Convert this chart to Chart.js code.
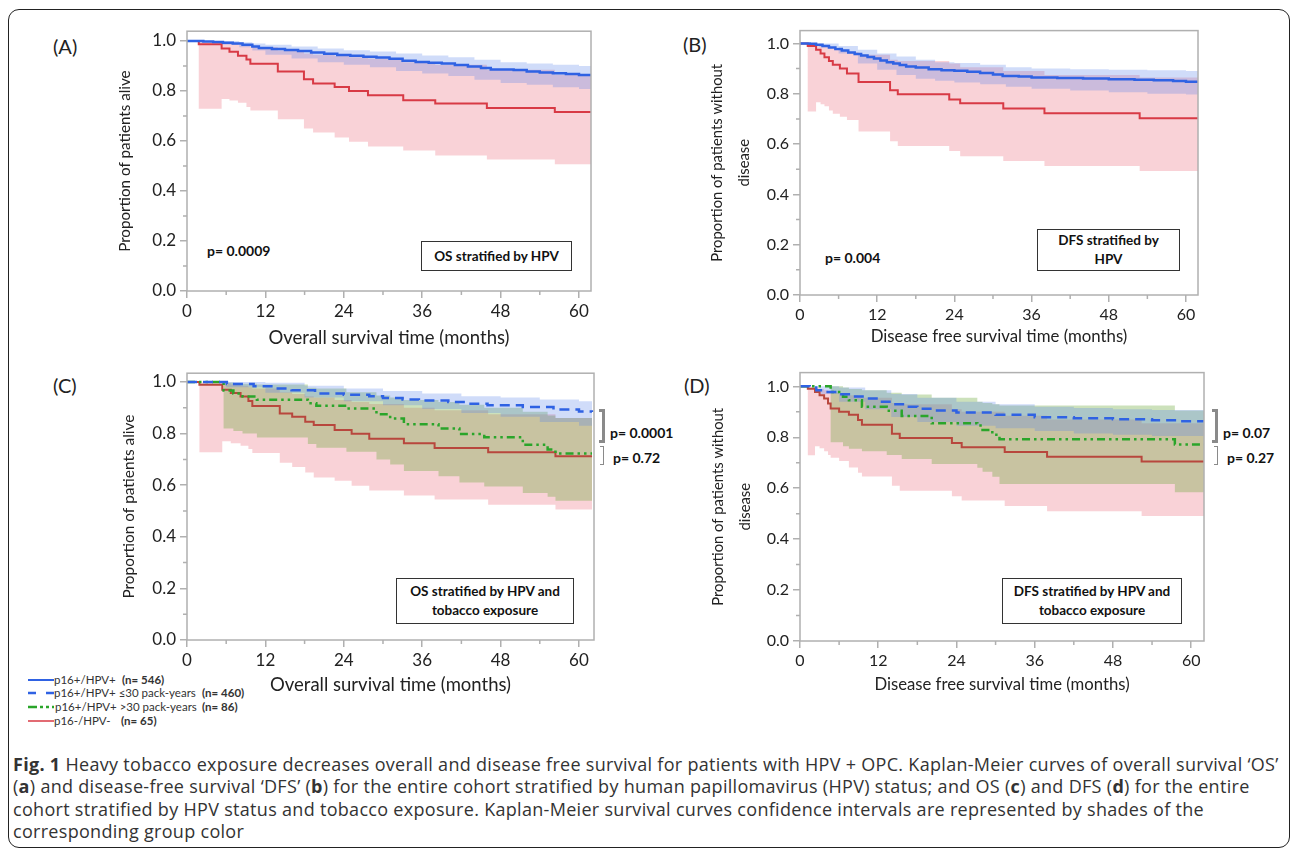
<!DOCTYPE html>
<html>
<head>
<meta charset="utf-8">
<script src="https://cdn.jsdelivr.net/npm/chart.js@4.4.1/dist/chart.umd.min.js"></script>
<style>
  html, body { margin: 0; padding: 0; background: #fff; }
  body { position: relative; width: 1292px; height: 850px; overflow: hidden; font-family: Lato, sans-serif; color: #222; }
  .frame { position: absolute; left: 8px; top: 9px; width: 1282px; height: 839px; box-sizing: border-box; border: 1.5px solid #222; border-radius: 11px; }
  .panel { position: absolute; }
  .panel canvas { display: block; }
  .tag { position: absolute; font-size: 20px; line-height: 20px; color: #222; }
  .pval { position: absolute; font-size: 14px; font-weight: 700; line-height: 16px; color: #111; white-space: nowrap; transform: translateY(-50%); }
  .note { position: absolute; box-sizing: border-box; border: 1.5px solid #333; display: flex; align-items: center; justify-content: center; text-align: center; font-size: 13.5px; font-weight: 700; line-height: 19px; color: #111; }
  .brace { position: absolute; box-sizing: border-box; border-color: #8a8a8a; border-style: solid; border-left: none; }
  .leg { position: absolute; font-size: 11.5px; color: #333; white-space: nowrap; line-height: 12px; transform: translateY(-50%); }
  .leg b { font-weight: 700; }
  .caption { position: absolute; left: 13px; top: 753px; font-family: "Open Sans", sans-serif; font-size: 18px; letter-spacing: 0.3px; line-height: 22.3px; color: #333; }
  .caption div { white-space: nowrap; }
</style>
</head>
<body>
<div class="frame"></div>

<div class="tag" style="left:53px;top:36px">(A)</div>
<div class="tag" style="left:683px;top:34px">(B)</div>
<div class="tag" style="left:53px;top:375px">(C)</div>
<div class="tag" style="left:684px;top:375px">(D)</div>

<div class="pval" style="left:207px;top:251px">p= 0.0009</div>
<div class="note" style="left:421px;top:241px;width:151px;height:30px">OS stratified by HPV</div>

<div class="pval" style="left:825px;top:258px">p= 0.004</div>
<div class="note" style="left:1037px;top:229px;width:143px;height:42px">DFS stratified by<br>HPV</div>

<div class="note" style="left:396px;top:578px;width:178px;height:46px">OS stratified by HPV and<br>tobacco exposure</div>
<div class="brace" style="left:599px;top:409px;width:6px;height:34px;border-width:3px"></div>
<div class="brace" style="left:600px;top:446px;width:4px;height:19px;border-width:1.5px"></div>
<div class="pval" style="left:610px;top:433px">p= 0.0001</div>
<div class="pval" style="left:613px;top:458px">p= 0.72</div>

<div class="note" style="left:1002px;top:578px;width:180px;height:46px">DFS stratified by HPV and<br>tobacco exposure</div>
<div class="brace" style="left:1212px;top:409px;width:6px;height:34px;border-width:3px"></div>
<div class="brace" style="left:1214px;top:446px;width:4px;height:19px;border-width:1.5px"></div>
<div class="pval" style="left:1223px;top:433px">p= 0.07</div>
<div class="pval" style="left:1227px;top:458px">p= 0.27</div>

<svg style="position:absolute;left:26px;top:672px" width="32" height="56">
  <line x1="2" y1="8" x2="28" y2="8" stroke="#2f62e3" stroke-width="2"/>
  <line x1="2" y1="21" x2="28" y2="21" stroke="#2f62e3" stroke-width="2.5" stroke-dasharray="8 10"/>
  <line x1="2" y1="35" x2="28" y2="35" stroke="#2aa52a" stroke-width="2.5" stroke-dasharray="9 3 3 3 3 3"/>
  <line x1="2" y1="49" x2="28" y2="49" stroke="#d83a45" stroke-width="1.5"/>
</svg>
<div class="leg" style="left:54px;top:680px">p16+/HPV+</div><div class="leg" style="left:122px;top:680px"><b>(n= 546)</b></div>
<div class="leg" style="left:54px;top:693px">p16+/HPV+ ≤30 pack-years</div><div class="leg" style="left:202px;top:693px"><b>(n= 460)</b></div>
<div class="leg" style="left:55px;top:707px">p16+/HPV+ &gt;30 pack-years</div><div class="leg" style="left:202px;top:707px"><b>(n= 86)</b></div>
<div class="leg" style="left:54px;top:721px">p16-/HPV-</div><div class="leg" style="left:121px;top:721px"><b>(n= 65)</b></div>

<div class="caption">
  <div><b>Fig. 1</b> Heavy tobacco exposure decreases overall and disease free survival for patients with HPV + OPC. Kaplan-Meier curves of overall survival ‘OS’</div>
  <div>(<b>a</b>) and disease-free survival ‘DFS’ (<b>b</b>) for the entire cohort stratified by human papillomavirus (HPV) status; and OS (<b>c</b>) and DFS (<b>d</b>) for the entire</div>
  <div>cohort stratified by HPV status and tobacco exposure. Kaplan-Meier survival curves confidence intervals are represented by shades of the</div>
  <div>corresponding group color</div>
</div>

<script>
/* axis ticks shared by all four panels */
const xTicks = [0, 12, 24, 36, 48, 60];
const xMinor = [6, 18, 30, 42, 54];
const yTicks = [0, 0.2, 0.4, 0.6, 0.8, 1.0];
const yMinor = [0.1, 0.3, 0.5, 0.7, 0.9];

/* (A) overall survival by HPV */
const osRedT  = [0, 1.8, 5.3, 6.5, 7.8, 9.1, 9.7, 13.9, 17.9, 19.3, 22.6, 24.8, 27.7, 33.1, 38.0, 45.9, 56.3, 62];
const osRedS  = [1, 0.987, 0.970, 0.957, 0.941, 0.926, 0.909, 0.878, 0.847, 0.830, 0.816, 0.800, 0.783, 0.763, 0.750, 0.732, 0.716, 0.716];
const osRedLo = [1, 0.729, 0.768, 0.762, 0.753, 0.736, 0.722, 0.687, 0.650, 0.634, 0.614, 0.597, 0.578, 0.562, 0.542, 0.526, 0.507, 0.507];
const osRedHi = [1, 0.995, 0.993, 0.990, 0.985, 0.980, 0.975, 0.962, 0.950, 0.945, 0.940, 0.935, 0.930, 0.915, 0.905, 0.885, 0.865, 0.865];
const osBlueT = [0, 2.5, 4, 5.5, 7, 8.5, 10, 11, 13, 15, 17, 19, 21, 23, 25, 27, 29, 31, 33, 35, 37, 39, 41, 43, 45, 46.5, 50, 52, 54, 56, 58, 60, 62];
const osBlueS = [1, 0.998, 0.996, 0.993, 0.99, 0.985, 0.978, 0.972, 0.968, 0.964, 0.96, 0.954, 0.949, 0.944, 0.941, 0.937, 0.934, 0.929, 0.921, 0.916, 0.913, 0.91, 0.904, 0.898, 0.892, 0.886, 0.884, 0.878, 0.874, 0.871, 0.868, 0.864, 0.862];
const osBlueBandT = [0, 2, 5, 8, 10, 12, 16, 20, 24, 28, 32, 36, 40, 44, 48, 52, 56, 60, 62];
const osBlueHi = [1, 1, 1, 0.995, 0.99, 0.985, 0.978, 0.97, 0.963, 0.958, 0.95, 0.942, 0.935, 0.925, 0.915, 0.91, 0.905, 0.9, 0.898];
const osBlueLo = [1, 0.995, 0.985, 0.975, 0.962, 0.945, 0.93, 0.915, 0.905, 0.895, 0.88, 0.87, 0.86, 0.845, 0.832, 0.825, 0.815, 0.808, 0.805];

/* (B) disease free survival by HPV */
const dfsRedT  = [0, 1.2, 2.5, 3.2, 3.8, 4.5, 5.1, 6.2, 7.3, 9.1, 14.0, 15.2, 23.2, 24.9, 31.6, 38.0, 52.8, 62];
const dfsRedS  = [1, 0.99, 0.975, 0.96, 0.945, 0.93, 0.915, 0.90, 0.88, 0.847, 0.814, 0.798, 0.777, 0.762, 0.741, 0.722, 0.703, 0.703];
const dfsRedLo = [1, 0.729, 0.766, 0.758, 0.75, 0.733, 0.72, 0.709, 0.696, 0.65, 0.611, 0.592, 0.572, 0.552, 0.533, 0.513, 0.493, 0.493];
const dfsRedHi = [1, 0.998, 0.996, 0.993, 0.99, 0.985, 0.98, 0.975, 0.965, 0.955, 0.935, 0.93, 0.92, 0.905, 0.89, 0.875, 0.865, 0.865];
const dfsBlueT = [0, 1.5, 2.5, 3.5, 4.5, 5.5, 6.5, 7.5, 8.5, 9.5, 10.5, 11.5, 12.5, 13.5, 14.5, 15.5, 16.5, 18, 20, 22, 24, 26, 28, 30, 31.5, 34, 36, 40, 44, 48, 52, 55, 58, 60, 62];
const dfsBlueS = [1, 0.999, 0.995, 0.99, 0.984, 0.978, 0.972, 0.964, 0.958, 0.952, 0.946, 0.94, 0.932, 0.925, 0.92, 0.914, 0.908, 0.904, 0.897, 0.893, 0.891, 0.887, 0.882, 0.876, 0.871, 0.869, 0.865, 0.863, 0.861, 0.858, 0.856, 0.854, 0.851, 0.848, 0.847];
const dfsBlueBandT = [0, 3, 6, 9, 12, 15, 18, 21, 24, 28, 32, 36, 42, 48, 54, 60, 62];
const dfsBlueHi = [1, 1, 0.99, 0.975, 0.96, 0.948, 0.935, 0.925, 0.922, 0.915, 0.905, 0.9, 0.897, 0.895, 0.893, 0.89, 0.888];
const dfsBlueLo = [1, 0.985, 0.96, 0.92, 0.895, 0.875, 0.86, 0.852, 0.845, 0.838, 0.828, 0.82, 0.813, 0.806, 0.8, 0.797, 0.795];

/* (C) overall survival by HPV and tobacco */
const osTobRedT  = [0, 1.9, 5.4, 6.7, 8.2, 9.4, 10.0, 14.2, 16.1, 18.1, 19.4, 22.6, 25.2, 27.9, 33.2, 37.9, 46.1, 56.4, 62];
const osTobRedS  = [1, 0.989, 0.97, 0.957, 0.944, 0.926, 0.907, 0.878, 0.865, 0.846, 0.833, 0.814, 0.799, 0.78, 0.763, 0.744, 0.728, 0.712, 0.712];
const osTobRedLo = [1, 0.728, 0.77, 0.763, 0.753, 0.74, 0.725, 0.687, 0.67, 0.649, 0.63, 0.617, 0.598, 0.579, 0.56, 0.545, 0.524, 0.506, 0.506];
const osTobRedHi = [1, 0.998, 0.995, 0.99, 0.985, 0.98, 0.975, 0.96, 0.953, 0.945, 0.94, 0.93, 0.922, 0.915, 0.9, 0.89, 0.875, 0.86, 0.86];
const osTobGreenT  = [0, 5.6, 7.1, 8.5, 10.7, 18.5, 19.8, 24.4, 29.0, 31.1, 33.2, 38.5, 41.7, 45.5, 51.4, 55.2, 56.4, 62];
const osTobGreenS  = [1, 0.967, 0.955, 0.944, 0.931, 0.918, 0.908, 0.897, 0.875, 0.858, 0.836, 0.82, 0.798, 0.786, 0.757, 0.738, 0.723, 0.723];
const osTobGreenLo = [1, 0.82, 0.81, 0.8, 0.785, 0.76, 0.745, 0.73, 0.7, 0.68, 0.655, 0.635, 0.61, 0.595, 0.57, 0.555, 0.54, 0.54];
const osTobGreenHi = [1, 0.998, 0.995, 0.993, 0.99, 0.978, 0.975, 0.96, 0.948, 0.94, 0.93, 0.922, 0.912, 0.9, 0.885, 0.87, 0.86, 0.86];
const osTobBlueT = [0, 6.1, 10.2, 13.2, 16, 19.6, 24, 27.9, 30, 33, 35.5, 40, 43.2, 46, 51.4, 56.1, 60, 62];
const osTobBlueS = [1, 0.992, 0.983, 0.975, 0.968, 0.955, 0.95, 0.945, 0.938, 0.932, 0.928, 0.922, 0.916, 0.91, 0.903, 0.893, 0.886, 0.884];
const osTobBlueBandT = [0, 6, 12, 18, 24, 30, 36, 42, 48, 54, 60, 62];
const osTobBlueHi = [1, 1, 0.997, 0.985, 0.975, 0.965, 0.955, 0.945, 0.94, 0.932, 0.925, 0.924];
const osTobBlueLo = [1, 0.98, 0.958, 0.94, 0.925, 0.91, 0.895, 0.88, 0.865, 0.845, 0.83, 0.828];

/* (D) disease free survival by HPV and tobacco */
const dfsTobRedT  = [0, 1.2, 2.3, 3.0, 3.7, 4.3, 4.7, 6.0, 7.5, 8.9, 9.5, 14.1, 15.3, 23.3, 24.8, 31.4, 37.9, 52.4, 62];
const dfsTobRedS  = [1, 0.991, 0.978, 0.965, 0.952, 0.933, 0.913, 0.9, 0.888, 0.868, 0.849, 0.814, 0.797, 0.778, 0.761, 0.742, 0.724, 0.705, 0.705];
const dfsTobRedLo = [1, 0.729, 0.765, 0.757, 0.745, 0.73, 0.72, 0.707, 0.681, 0.661, 0.646, 0.61, 0.59, 0.568, 0.552, 0.53, 0.51, 0.491, 0.491];
const dfsTobRedHi = [1, 0.998, 0.995, 0.99, 0.985, 0.98, 0.975, 0.97, 0.965, 0.96, 0.955, 0.935, 0.93, 0.91, 0.9, 0.885, 0.87, 0.855, 0.855];
const dfsTobGreenT  = [0, 4.7, 6.6, 7.5, 9.5, 13.3, 15.6, 20.2, 27.2, 28.0, 29.5, 30.6, 57.5, 62];
const dfsTobGreenS  = [1, 0.978, 0.959, 0.945, 0.92, 0.904, 0.884, 0.855, 0.846, 0.829, 0.81, 0.792, 0.772, 0.772];
const dfsTobGreenLo = [1, 0.78, 0.765, 0.755, 0.745, 0.73, 0.715, 0.695, 0.68, 0.665, 0.645, 0.617, 0.584, 0.584];
const dfsTobGreenHi = [1, 1, 0.995, 0.99, 0.985, 0.975, 0.968, 0.955, 0.94, 0.935, 0.93, 0.925, 0.905, 0.905];
const dfsTobBlueT = [0, 1.5, 2.5, 4, 6, 8, 10, 12, 14, 16, 18, 20, 24, 30, 36, 42, 48, 54, 58, 62];
const dfsTobBlueS = [1, 0.995, 0.985, 0.978, 0.969, 0.96, 0.952, 0.94, 0.93, 0.92, 0.912, 0.905, 0.897, 0.888, 0.879, 0.875, 0.871, 0.867, 0.863, 0.862];
const dfsTobBlueBandT = [0, 3, 6, 10, 14, 18, 24, 30, 36, 42, 48, 54, 62];
const dfsTobBlueHi = [1, 1, 0.995, 0.985, 0.97, 0.955, 0.94, 0.93, 0.92, 0.915, 0.91, 0.907, 0.905];
const dfsTobBlueLo = [1, 0.97, 0.94, 0.91, 0.88, 0.86, 0.845, 0.835, 0.825, 0.815, 0.81, 0.805, 0.8];

/* colours */
const BLUE = "#2f62e3", RED = "#d83a45", RED_DARK = "#b8473d", GREEN = "#2aa52a";
const BLUE_BAND = "rgba(85,130,235,0.28)", RED_BAND = "rgba(232,95,110,0.28)", GREEN_BAND = "rgba(110,170,60,0.35)";
const DASH = [10, 6], DASH_DOT = [8, 4, 2.5, 4, 2.5, 4];

const pts = (t, s) => t.map((x, i) => ({ x, y: s[i] }));

/* CI band = upper edge filled down to the next dataset (lower edge) */
function band(t, hi, lo, color) {
  const base = { stepped: true, pointRadius: 0, borderWidth: 0, borderColor: "transparent", order: 2 };
  return [
    { ...base, data: pts(t, hi), fill: "+1", backgroundColor: color },
    { ...base, data: pts(t, lo), fill: false },
  ];
}
function curve(t, s, color, width, dash) {
  return { data: pts(t, s), stepped: true, fill: false, pointRadius: 0, borderColor: color, borderWidth: width, borderDash: dash || [], order: 1 };
}

/* plot frame + short minor ticks */
const framePlugin = {
  id: "frame",
  afterDraw(chart) {
    const { ctx, chartArea: a, scales: { x, y } } = chart;
    ctx.save();
    ctx.strokeStyle = "#b0b0b0";
    ctx.lineWidth = 1.5;
    ctx.strokeRect(a.left, a.top, a.right - a.left, a.bottom - a.top);
    ctx.beginPath();
    yMinor.forEach((v) => { const p = y.getPixelForValue(v); ctx.moveTo(a.left - 4, p); ctx.lineTo(a.left, p); });
    xMinor.forEach((v) => { const p = x.getPixelForValue(v); ctx.moveTo(p, a.bottom); ctx.lineTo(p, a.bottom + 4); });
    ctx.stroke();
    ctx.restore();
  },
};

const panels = [
  {
    area: [187, 27, 591, 291], xMax: 61.84, yMax: 1.039, tickSize: 17,
    xTitle: "Overall survival time (months)", xTitleSize: 18.5, xTitlePad: 2,
    yTitle: "Proportion of patients alive", yTitleSize: 15.2, yTitleLH: 1.2, yTitlePad: 49,
    datasets: [
      curve(osBlueT, osBlueS, BLUE, 2.5),
      curve(osRedT, osRedS, RED, 2),
      ...band(osBlueBandT, osBlueHi, osBlueLo, BLUE_BAND),
      ...band(osRedT, osRedHi, osRedLo, RED_BAND),
    ],
  },
  {
    area: [800, 27, 1198, 295], xMax: 61.87, yMax: 1.051, tickSize: 16,
    xTitle: "Disease free survival time (months)", xTitleSize: 16.8, xTitlePad: 8,
    yTitle: ["Proportion of patients without", "disease"], yTitleSize: 14.8, yTitleLH: 1.8, yTitlePad: 24,
    datasets: [
      curve(dfsBlueT, dfsBlueS, BLUE, 2.5),
      curve(dfsRedT, dfsRedS, RED, 2),
      ...band(dfsBlueBandT, dfsBlueHi, dfsBlueLo, BLUE_BAND),
      ...band(dfsRedT, dfsRedHi, dfsRedLo, RED_BAND),
    ],
  },
  {
    area: [187, 369, 594, 640], xMax: 62.3, yMax: 1.034, tickSize: 17,
    xTitle: "Overall survival time (months)", xTitleSize: 18.5, xTitlePad: 4,
    yTitle: "Proportion of patients alive", yTitleSize: 15.4, yTitleLH: 1.2, yTitlePad: 53,
    datasets: [
      curve(osTobBlueT, osTobBlueS, BLUE, 2.5, DASH),
      curve(osTobGreenT, osTobGreenS, GREEN, 2.5, DASH_DOT),
      curve(osTobRedT, osTobRedS, RED_DARK, 2),
      ...band(osTobBlueBandT, osTobBlueHi, osTobBlueLo, BLUE_BAND),
      ...band(osTobGreenT, osTobGreenHi, osTobGreenLo, GREEN_BAND),
      ...band(osTobRedT, osTobRedHi, osTobRedLo, RED_BAND),
    ],
  },
  {
    area: [800, 369, 1204, 641], xMax: 61.97, yMax: 1.054, tickSize: 16,
    xTitle: "Disease free survival time (months)", xTitleSize: 16.7, xTitlePad: 6,
    yTitle: ["Proportion of patients without", "disease"], yTitleSize: 14.8, yTitleLH: 1.8, yTitlePad: 25,
    datasets: [
      curve(dfsTobBlueT, dfsTobBlueS, BLUE, 2.5, DASH),
      curve(dfsTobGreenT, dfsTobGreenS, GREEN, 2.5, DASH_DOT),
      curve(dfsTobRedT, dfsTobRedS, RED_DARK, 2),
      ...band(dfsTobBlueBandT, dfsTobBlueHi, dfsTobBlueLo, BLUE_BAND),
      ...band(dfsTobGreenT, dfsTobGreenHi, dfsTobGreenLo, GREEN_BAND),
      ...band(dfsTobRedT, dfsTobRedHi, dfsTobRedLo, RED_BAND),
    ],
  },
];

const Y_AXIS_W = 120, X_AXIS_H = 60;

function makePanel(p) {
  const [L, T, R, B] = p.area;
  const wrap = document.createElement("div");
  wrap.className = "panel";
  wrap.style.left = L - Y_AXIS_W + "px";
  wrap.style.top = T - 10 + "px";
  const canvas = document.createElement("canvas");
  canvas.width = R - L + Y_AXIS_W + 10;
  canvas.height = B - T + X_AXIS_H + 10;
  wrap.appendChild(canvas);
  document.body.appendChild(wrap);

  const tickFont = { family: "Lato", size: p.tickSize };
  const grid = { drawOnChartArea: false, tickLength: 7, color: "#b0b0b0", lineWidth: 1.5 };

  return new Chart(canvas, {
    type: "line",
    data: { datasets: p.datasets },
    options: {
      responsive: false,
      animation: false,
      events: [],
      layout: { padding: { left: 0, top: 10, right: 10, bottom: 0 } },
      plugins: { legend: { display: false }, tooltip: { enabled: false } },
      scales: {
        x: {
          type: "linear", min: 0, max: p.xMax,
          afterFit: (s) => { s.height = X_AXIS_H; },
          afterBuildTicks: (s) => { s.ticks = xTicks.map((v) => ({ value: v })); },
          grid, border: { display: false },
          ticks: { font: tickFont, color: "#222", padding: 3, maxRotation: 0, autoSkip: false },
          title: { display: true, text: p.xTitle, color: "#222", font: { family: "Lato", size: p.xTitleSize }, padding: { top: 0, bottom: p.xTitlePad } },
        },
        y: {
          type: "linear", min: 0, max: p.yMax,
          afterFit: (s) => { s.width = Y_AXIS_W; },
          afterBuildTicks: (s) => { s.ticks = yTicks.map((v) => ({ value: v })); },
          grid, border: { display: false },
          ticks: { font: tickFont, color: "#222", padding: 4, autoSkip: false, callback: (v) => v.toFixed(1) },
          title: { display: true, text: p.yTitle, color: "#222", font: { family: "Lato", size: p.yTitleSize, lineHeight: p.yTitleLH }, padding: { top: p.yTitlePad, bottom: 0 } },
        },
      },
    },
    plugins: [framePlugin],
  });
}

panels.forEach(makePanel);
</script>
</body>
</html>
